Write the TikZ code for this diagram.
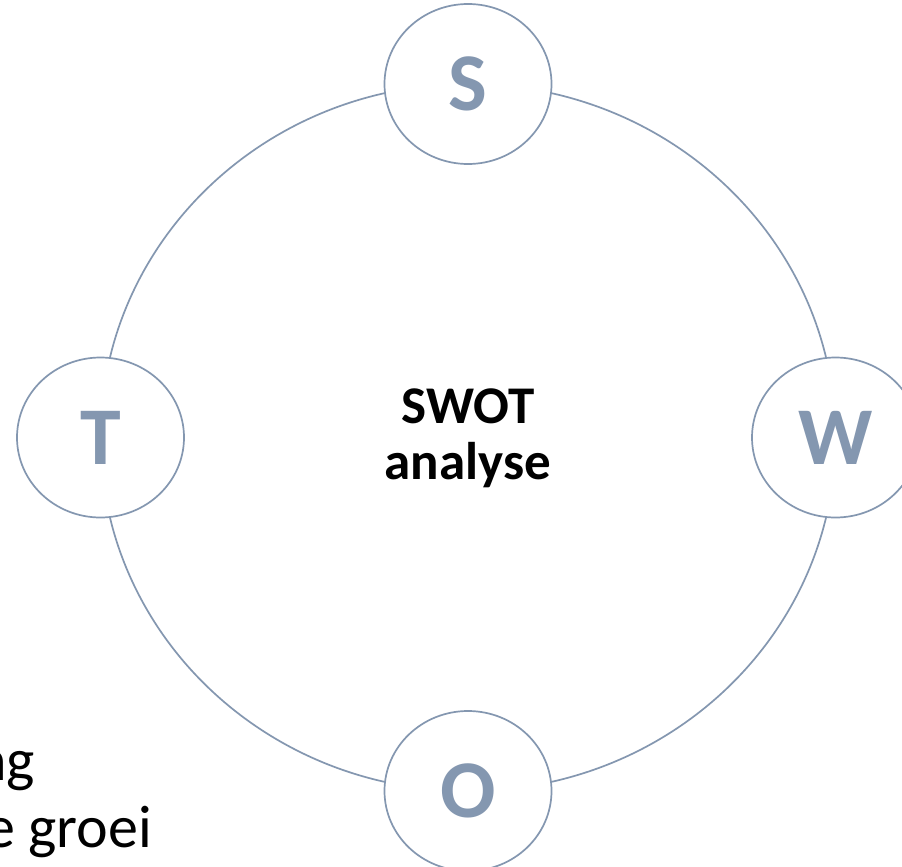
\documentclass[tikz,border=0pt]{standalone}
\usepackage{fontspec}
\setmainfont{Carlito}
\definecolor{swotline}{HTML}{8497B0}
\definecolor{swotletter}{HTML}{8497B0}
\begin{document}
\begin{tikzpicture}[x=1pt,y=-1pt,
  ring/.style={draw=swotline,line width=1.7pt},
  petal/.style={draw=swotline,line width=1.7pt,fill=white},
  letter/.style={text=swotletter,font=\bfseries\fontsize{82}{82}\selectfont},
  centre/.style={font=\bfseries\fontsize{53}{56}\selectfont,align=center},
  slide/.style={font=\fontsize{60}{67}\selectfont,anchor=base west,inner sep=0pt}]
\useasboundingbox (0,0) rectangle (902,867);
\clip (0,0) rectangle (902,867);
\fill[white] (0,0) rectangle (902,867);
\node[slide] (t1) at (-25,780) {ng};
\node[slide] (t2) at (-15,847) {e groei};
\coordinate (c) at (468,437.5);
\draw[ring] (c) ellipse [x radius=367.5, y radius=353.5];
\draw[petal] (468,84) ellipse [x radius=83.5, y radius=80];
\draw[petal] (835.5,437.5) ellipse [x radius=83.5, y radius=80];
\draw[petal] (468,791) ellipse [x radius=83.5, y radius=80];
\draw[petal] (100.5,437.5) ellipse [x radius=83.5, y radius=80];
\node[letter] (S) at (468,84) {S};
\node[letter] (W) at (835.5,437.5) {W};
\node[letter] (O) at (468,791) {O};
\node[letter] (T) at (100.5,437.5) {T};
\node[centre] (m) at (468,438) {SWOT\\analyse};
\end{tikzpicture}
\end{document}
